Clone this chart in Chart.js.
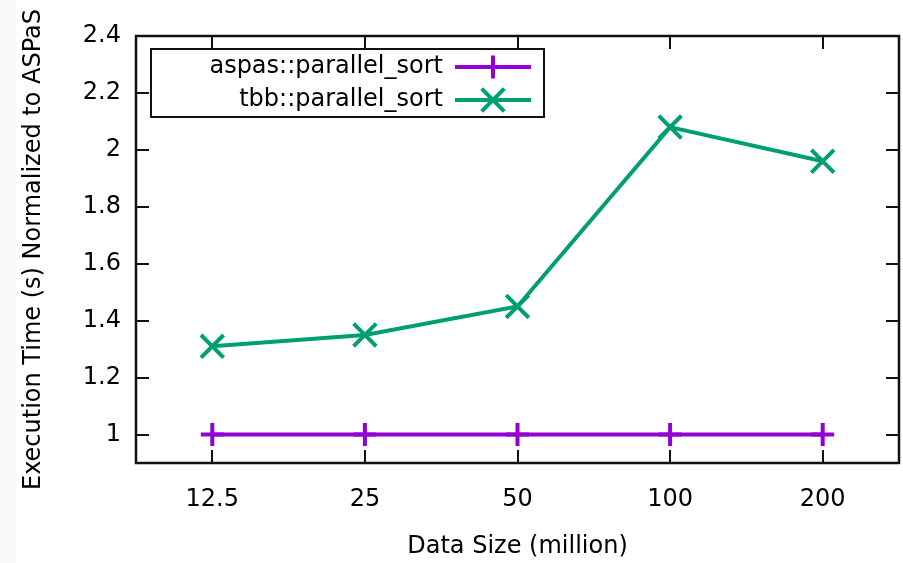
<!DOCTYPE html>
<html>
<head>
<meta charset="utf-8">
<script src="https://cdn.jsdelivr.net/npm/chart.js@4.4.1/dist/chart.umd.min.js"></script>
<style>
  html, body { margin: 0; padding: 0; background: #fff; }
  #wrap {
    width: 903px; height: 563px;
    background: linear-gradient(to right, #fafafa 0, #fafafa 16px, #fff 16px);
  }
</style>
</head>
<body>
<div id="wrap"><canvas id="myChart" width="903" height="563"></canvas></div>
<script>
const sizes = ["12.5", "25", "50", "100", "200"];
const aspasTimes = [1, 1, 1, 1, 1];
const tbbTimes = [1.31, 1.35, 1.45, 2.08, 1.96];
const yTicks = [1, 1.2, 1.4, 1.6, 1.8, 2, 2.2, 2.4];

const FONT = "'DejaVu Sans', sans-serif";
const TICK = 13;

// gnuplot-like frame with inward ticks on all four sides
const framePlugin = {
  id: "frame",
  beforeDatasetsDraw(chart) {
    const { ctx, chartArea: a, scales } = chart;
    ctx.save();
    ctx.fillStyle = "#fff";
    ctx.fillRect(a.left, a.top, a.right - a.left, a.bottom - a.top);
    ctx.strokeStyle = "#111";
    ctx.lineWidth = 2;
    ctx.beginPath();
    scales.x.ticks.forEach((t, i) => {
      const px = Math.round(scales.x.getPixelForTick(i));
      ctx.moveTo(px, a.bottom); ctx.lineTo(px, a.bottom - TICK);
      ctx.moveTo(px, a.top); ctx.lineTo(px, a.top + TICK);
    });
    scales.y.ticks.forEach(t => {
      const py = Math.round(scales.y.getPixelForValue(t.value));
      ctx.moveTo(a.left, py); ctx.lineTo(a.left + TICK, py);
      ctx.moveTo(a.right, py); ctx.lineTo(a.right - TICK, py);
    });
    ctx.stroke();
    ctx.lineWidth = 2.5;
    ctx.strokeRect(a.left, a.top, a.right - a.left, a.bottom - a.top);
    ctx.restore();
  },
  afterDraw(chart) {
    // key box: label right-aligned, then a sample line with its marker
    const { ctx } = chart;
    const box = { x: 151, y: 49, w: 393, h: 68 };
    ctx.save();
    ctx.fillStyle = "#fff";
    ctx.fillRect(box.x, box.y, box.w, box.h);
    ctx.strokeStyle = "#111";
    ctx.lineWidth = 2;
    ctx.strokeRect(box.x, box.y, box.w, box.h);
    ctx.font = "24px " + FONT;
    ctx.textAlign = "right";
    ctx.textBaseline = "middle";
    chart.data.datasets.forEach((ds, i) => {
      const cy = 67 + i * 33;
      ctx.fillStyle = "#000";
      ctx.fillText(ds.label, 443, cy);
      ctx.strokeStyle = ds.borderColor;
      ctx.lineWidth = 4;
      ctx.beginPath();
      ctx.moveTo(455, cy); ctx.lineTo(531, cy);
      ctx.stroke();
      Chart.helpers.drawPoint(ctx, {
        pointStyle: ds.pointStyle, radius: ds.pointRadius, borderWidth: 4
      }, 493, cy);
    });
    ctx.restore();
  }
};

new Chart(document.getElementById("myChart"), {
  type: "line",
  data: {
    labels: sizes,
    datasets: [
      {
        label: "aspas::parallel_sort",
        data: aspasTimes,
        borderColor: "#9400d3",
        backgroundColor: "#9400d3",
        borderWidth: 4,
        pointStyle: "cross",
        pointRadius: 11.5,
        pointBorderWidth: 4,
        tension: 0,
      },
      {
        label: "tbb::parallel_sort",
        data: tbbTimes,
        borderColor: "#009e73",
        backgroundColor: "#009e73",
        borderWidth: 4,
        pointStyle: "crossRot",
        pointRadius: 16,
        pointBorderWidth: 4,
        tension: 0,
      },
    ],
  },
  options: {
    responsive: false,
    animation: false,
    layout: { autoPadding: false, padding: { top: 36, right: 4, left: 0, bottom: 0 } },
    scales: {
      x: {
        offset: true,
        grid: { display: false, drawTicks: false },
        border: { display: false },
        ticks: { color: "#000", font: { family: FONT, size: 24 }, padding: 22, maxRotation: 0 },
        title: {
          display: true,
          text: "Data Size (million)",
          color: "#000",
          font: { family: FONT, size: 24 },
          padding: { top: 0, bottom: 2 },
        },
        afterFit(scale) { scale.height = 100; },
      },
      y: {
        min: 0.9,
        max: 2.4,
        grid: { display: false, drawTicks: false },
        border: { display: false },
        afterBuildTicks(scale) { scale.ticks = yTicks.map(v => ({ value: v })); },
        ticks: {
          color: "#000",
          font: { family: FONT, size: 24 },
          padding: 15,
          callback: v => String(+v.toFixed(1)),
        },
        title: {
          display: true,
          text: "Execution Time (s) Normalized to ASPaS",
          color: "#000",
          font: { family: FONT, size: 24 },
          padding: { top: 19, bottom: 0 },
        },
        afterFit(scale) { scale.width = 136; },
      },
    },
    plugins: {
      legend: { display: false },
      tooltip: { enabled: false },
    },
  },
  plugins: [framePlugin],
});
</script>
</body>
</html>
